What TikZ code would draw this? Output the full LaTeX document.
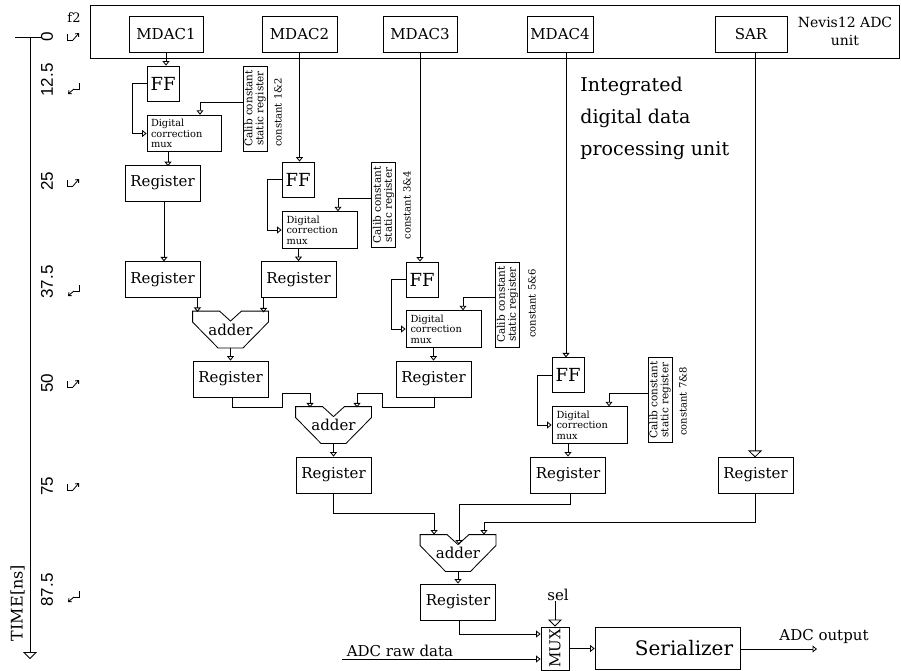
\documentclass[tikz,border=0pt]{standalone}
\usepackage{fontspec}
\setmainfont{DejaVu Serif}
\newfontfamily\axisfont{Liberation Sans}
\usetikzlibrary{arrows.meta,calc}

\tikzset{
  arr/.style={-{Triangle[open,length=4.5pt,width=7pt]}},
  bigarr/.style={-{Triangle[open,length=7pt,width=14pt]}},
  box/.style={draw, inner sep=0pt, minimum width=75pt, minimum height=36pt,
    font=\fontsize{15}{18}\selectfont},
  ffbox/.style={draw, inner sep=0pt, minimum width=32pt, minimum height=35pt,
    font=\fontsize{18}{20}\selectfont},
  dcm/.style={draw, inner sep=4pt, minimum width=74pt, minimum height=35pt,
    text width=66pt, align=left, font=\fontsize{9.8}{10.5}\selectfont},
  calib/.style={draw, rotate=90, inner sep=1pt, minimum width=85pt,
    minimum height=24pt, align=center, font=\fontsize{10.5}{11}\selectfont},
  cnst/.style={rotate=90, inner sep=0pt, font=\fontsize{10}{12}\selectfont},
  addernode/.style={inner sep=0pt, minimum width=75pt, minimum height=36pt,
    font=\fontsize{15}{18}\selectfont},
  ticklbl/.style={rotate=90, inner sep=0pt, font=\axisfont\fontsize{17}{19}\selectfont},
  plain/.style={inner sep=0pt, font=\fontsize{15}{18}\selectfont},
  edgearr/.style={-{Straight Barb[length=2.5pt,width=4.5pt]}},
}

% outline of an adder drawn around its (invisible) node
\newcommand\adderoutline[1]{%
  \draw (#1.north west) -- ($(#1.north)+(-11,0)$) -- ($(#1.north)+(0,10)$)
    -- ($(#1.north)+(11,0)$) -- (#1.north east) -- ($(#1.north east)+(0,11)$)
    -- ($(#1.south)+(12.5,0)$) -- ($(#1.south)+(-12.5,0)$)
    -- ($(#1.north west)+(0,11)$) -- cycle;}

% clock edge marks on the time axis (rising / falling)
\newcommand\clkup[1]{%
  \draw (67,#1-3) -- (67,#1+3) -- (73,#1+3);
  \draw[edgearr] (73,#1+3) -- (79,#1-4);}
\newcommand\clkdown[1]{%
  \draw (79,#1-4) -- (79,#1+2) -- (74,#1+2);
  \draw[edgearr] (74,#1+2) -- (68,#1+7);}

\begin{document}
\begin{tikzpicture}[x=1pt,y=-1pt,line width=0.85pt]
\useasboundingbox (0,0) rectangle (901,671);

% ---- ADC unit -------------------------------------------------------
\node[draw, inner sep=0pt, minimum width=809pt, minimum height=53pt] (unit) at (494.5,31.5) {};
\node[box, minimum width=74pt] (mdac1) at (166,34) {MDAC1};
\node[box] (mdac2) at (299.5,34) {MDAC2};
\node[box, minimum width=74pt] (mdac3) at (420,34) {MDAC3};
\node[box, minimum width=66pt] (mdac4) at (560,34) {MDAC4};
\node[box, minimum width=72pt] (sar) at (751,34) {SAR};
\node[align=center, inner sep=0pt, font=\fontsize{14}{18}\selectfont] (nevis) at (845,31) {Nevis12 ADC\\unit};

\node[align=left, anchor=west, inner sep=0pt, font=\fontsize{19}{32}\selectfont] (idp) at (580,118)
  {Integrated\\digital data\\processing unit};

% ---- flip-flops ------------------------------------------------------
\node[ffbox] (ff1) at (163,83.5) {FF};
\node[ffbox] (ff2) at (298,179.5) {FF};
\node[ffbox] (ff3) at (422,279.5) {FF};
\node[ffbox] (ff4) at (568,375) {FF};

% ---- digital correction muxes ------------------------------------------
\node[dcm] (dcm1) at (184,133.5) {Digital\\correction\\mux};
\node[dcm, minimum width=75pt] (dcm2) at (319.5,230) {Digital\\correction\\mux};
\node[dcm, minimum width=75pt] (dcm3) at (443.5,329) {Digital\\correction\\mux};
\node[dcm, minimum width=75pt] (dcm4) at (589.5,425) {Digital\\correction\\mux};

% ---- calibration constant registers -----------------------------------
\node[calib] (cal1) at (255,108.5) {Calib constant\\static register};
\node[calib] (cal2) at (383.5,205) {Calib constant\\static register};
\node[calib] (cal3) at (507.5,304.5) {Calib constant\\static register};
\node[calib] (cal4) at (660,400) {Calib constant\\static register};
\node[cnst] (k1) at (278,112.5) {constant 1\&2};
\node[cnst] (k2) at (407,205) {constant 3\&4};
\node[cnst] (k3) at (532,303.5) {constant 5\&6};
\node[cnst] (k4) at (683,401.5) {constant 7\&8};

% ---- registers --------------------------------------------------------
\node[box] (r1a) at (162.5,183) {Register};
\node[box] (r1b) at (162.5,279.5) {Register};
\node[box] (r2b) at (298.5,279.5) {Register};
\node[box] (r3a) at (230.5,379) {Register};
\node[box] (r3b) at (433.5,379) {Register};
\node[box] (r4a) at (333.5,475) {Register};
\node[box] (r4c) at (568,475) {Register};
\node[box] (rsar) at (755.5,475) {Register};
\node[box] (r5) at (458,602) {Register};

% ---- adders -----------------------------------------------------------
\node[addernode] (a1) at (230.5,329.5) {adder};
\node[addernode] (a2) at (333.5,425) {adder};
\node[addernode] (a3) at (458,553) {adder};
\adderoutline{a1}
\adderoutline{a2}
\adderoutline{a3}

% ---- output stage -----------------------------------------------------
\node[draw, rotate=90, inner sep=0pt, minimum width=43pt, minimum height=28pt,
  font=\fontsize{15}{18}\selectfont] (mux) at (555,648.5) {MUX};
\node[draw, inner sep=0pt, minimum width=145pt, minimum height=42pt,
  font=\fontsize{20}{24}\selectfont] (ser) at (667.5,648) {\hspace*{33pt}Serializer};
\node[plain] (sel) at (558,595) {sel};
\node[plain] (raw) at (400,651) {ADC raw data};
\node[plain] (outlbl) at (824,636) {ADC output};
\coordinate (rawin) at (342,659);
\coordinate (adcout) at (817,649);

% ---- connectors: ADC outputs --------------------------------------------
\draw[arr] (mdac1.south) -- (mdac1.south |- ff1.north);
\draw[arr] (mdac2.south) -- (mdac2.south |- ff2.north);
\draw[arr] (mdac3.south) -- (mdac3.south |- ff3.north);
\draw[arr] ($(mdac4.south)+(6,0)$) -- ++(0,305);
\draw[bigarr] ($(sar.south)+(4,0)$) -- ++(0,405);

% FF -> correction mux
\foreach \i in {1,2,3,4}{
  \draw[arr] (ff\i.west) -- ++(-14,0) |- (dcm\i.west);
}
% calibration constants -> correction mux
\draw[arr] ($(cal1.north)+(0,-6.5)$) -| ($(dcm1.north)+(16,0)$);
\draw[arr] ($(cal2.north)+(0,-7)$) -| ($(dcm2.north)+(18.5,0)$);
\draw[arr] ($(cal3.north)+(0,-7.5)$) -| ($(dcm3.north)+(19.5,0)$);
\draw[arr] ($(cal4.north)+(0,-7)$) -| ($(dcm4.north)+(19.5,0)$);

% correction mux -> registers
\draw[arr] ($(dcm1.south)+(-16,0)$) -- ++(0,14);
\draw[arr] (dcm2.south -| r2b.north) -- (r2b.north);
\draw[arr] (dcm3.south -| r3b.north) -- (r3b.north);
\draw[arr] (dcm4.south -| r4c.north) -- (r4c.north);
\draw[arr] ($(r1a.south)+(1.5,0)$) -- ++(0,60);

% register tree
\draw[arr] ($(r1b.south east)+(-3,0)$) -- ++(0,14);
\draw[arr] ($(r2b.south west)+(3,0)$) -- ++(0,14.5);
\draw[arr] (a1.south) -- (r3a.north);
\draw[arr] ($(r3a.south)+(1.5,0)$) -- ++(0,10) -- ++(50,0) -- ++(0,-14) -- ++(28,0) -- ++(0,14);
\draw[arr] ($(r3b.south)+(0.5,0)$) -- ++(0,10) -- ++(-52,0) -- ++(0,-14) -- ++(-25,0) -- ++(0,14);
\draw[arr] (a2.south) -- (r4a.north);
\draw[arr] (r4a.south) -- ++(0,20) -| ($(a3.north west)+(14,0)$);
\draw[arr] ($(r4c.south)+(2,0)$) -- ++(0,11) -| ($(a3.north)+(1,10)$);
\draw[arr] ($(rsar.south)+(-0.5,0)$) -- ++(0,29) -| ($(a3.north east)+(-12,0)$);
\draw[arr] (a3.south) -- (r5.north);

% output stage
\draw[arr] ($(r5.south)+(1,0)$) |- ($(mux.north)+(0,-14.5)$);
\draw[arr] (rawin) -- ($(mux.north)+(0,10.5)$);
\draw[bigarr] (sel.south -| mux.east) -- (mux.east);
\draw[arr] (mux.south) -- (mux.south -| ser.west);
\draw[arr] (ser.east |- adcout) -- (adcout);

% ---- time axis --------------------------------------------------------
\coordinate (ttop) at (30,37);
\coordinate (tbot) at (30,659);
\coordinate (tl) at (15,37);
\coordinate (tr) at (42,37);
\draw (tl) -- (tr);
\draw[bigarr] (ttop) -- (tbot);
\node[rotate=90, inner sep=0pt, font=\fontsize{16}{18}\selectfont] (tname) at (17.5,603) {TIME[ns]};
\node[inner sep=0pt, font=\fontsize{13}{15}\selectfont] (f2) at (74,18) {f2};
\node[ticklbl] (t0) at (47,37) {0};
\node[ticklbl] (t1) at (47,80) {12.5};
\node[ticklbl] (t2) at (47,181) {25};
\node[ticklbl] (t3) at (47,282) {37.5};
\node[ticklbl] (t4) at (47,383) {50};
\node[ticklbl] (t5) at (47,486) {75};
\node[ticklbl] (t6) at (47,590) {87.5};
\clkup{37}
\clkdown{87}
\clkup{183}
\clkdown{289}
\clkup{384}
\clkup{487}
\clkdown{595}
\end{tikzpicture}
\end{document}
